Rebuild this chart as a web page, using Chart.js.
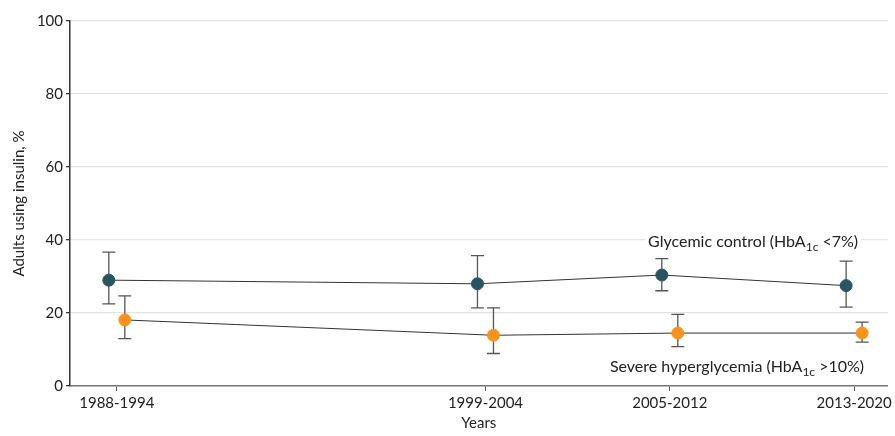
<!DOCTYPE html>
<html>
<head>
<meta charset="utf-8">
<script src="https://cdn.jsdelivr.net/npm/chart.js@4.4.1/dist/chart.umd.min.js"></script>
<style>
  html, body { margin: 0; padding: 0; background: #fff; }
  #wrap { width: 895px; height: 436px; }
</style>
</head>
<body>
<div id="wrap"><canvas id="chart"></canvas></div>
<script>
// survey periods and where they sit on the x axis
var periods = ['1988-1994', '1999-2004', '2005-2012', '2013-2020'];
var periodPos = [0, 2, 3, 4];

// glycemic control (HbA1c <7%)
var controlPct = [29.0, 28.0, 30.4, 27.5];
var controlLow = [22.5, 21.4, 26.1, 21.6];
var controlHigh = [36.7, 35.7, 34.9, 34.2];

// severe hyperglycemia (HbA1c >10%)
var severePct = [18.1, 13.9, 14.5, 14.5];
var severeLow = [13.0, 8.9, 10.8, 12.0];
var severeHigh = [24.7, 21.4, 19.6, 17.5];

var yTicks = [0, 20, 40, 60, 80, 100];

var FONT = 'Lato';
var FSIZE = 15;

function toPoints(vals, lo, hi) {
  return vals.map(function(v, i) {
    return { x: periodPos[i], y: v, lo: lo[i], hi: hi[i] };
  });
}

// nudge the two series apart by a few pixels so the bars don't overlap
var dodge = {
  id: 'dodge',
  afterDatasetsUpdate: function(chart) {
    chart.data.datasets.forEach(function(ds, i) {
      var meta = chart.getDatasetMeta(i);
      meta.data.forEach(function(pt) { pt.x += ds.dodge; });
    });
  }
};

var errorBars = {
  id: 'errorBars',
  beforeDatasetsDraw: function(chart) {
    var ctx = chart.ctx, y = chart.scales.y;
    ctx.save();
    ctx.strokeStyle = '#555';
    ctx.lineWidth = 1.3;
    chart.data.datasets.forEach(function(ds, i) {
      var meta = chart.getDatasetMeta(i);
      meta.data.forEach(function(pt, j) {
        var d = ds.data[j];
        var top = y.getPixelForValue(d.hi), bot = y.getPixelForValue(d.lo);
        ctx.beginPath();
        ctx.moveTo(pt.x, top); ctx.lineTo(pt.x, bot);
        ctx.moveTo(pt.x - 6.5, top); ctx.lineTo(pt.x + 6.5, top);
        ctx.moveTo(pt.x - 6.5, bot); ctx.lineTo(pt.x + 6.5, bot);
        ctx.stroke();
      });
    });
    ctx.restore();
  }
};

function drawSubLabel(ctx, parts, xRight, yMid, bg) {
  var big = '16px "' + FONT + '"', small = '12px "' + FONT + '"';
  var w = 0;
  parts.forEach(function(p) { ctx.font = p.sub ? small : big; w += ctx.measureText(p.t).width; });
  var x = xRight - w;
  if (bg) {
    ctx.fillStyle = '#fff';
    ctx.fillRect(x - 3, yMid - 9, w + 6, 20);
  }
  ctx.fillStyle = '#222';
  ctx.textBaseline = 'middle';
  ctx.textAlign = 'left';
  parts.forEach(function(p) {
    ctx.font = p.sub ? small : big;
    ctx.fillText(p.t, x, p.sub ? yMid + 5 : yMid);
    x += ctx.measureText(p.t).width;
  });
}

var seriesLabels = {
  id: 'seriesLabels',
  afterDraw: function(chart) {
    var ctx = chart.ctx, x = chart.scales.x, y = chart.scales.y;
    var xr = x.getPixelForValue(periodPos[3]);
    ctx.save();
    drawSubLabel(ctx, [{ t: 'Glycemic control (HbA' }, { t: '1c', sub: true }, { t: ' <7%)' }],
      xr + 4, y.getPixelForValue(39.5), true);
    drawSubLabel(ctx, [{ t: 'Severe hyperglycemia (HbA' }, { t: '1c', sub: true }, { t: ' >10%)' }],
      xr + 10, y.getPixelForValue(5.2), false);
    ctx.restore();
  }
};

new Chart(document.getElementById('chart'), {
  type: 'line',
  data: {
    datasets: [{
      label: 'Glycemic control (HbA1c <7%)',
      data: toPoints(controlPct, controlLow, controlHigh),
      borderColor: '#333',
      borderWidth: 1,
      pointBackgroundColor: '#285563',
      pointBorderColor: '#285563',
      pointRadius: 6,
      dodge: -8
    }, {
      label: 'Severe hyperglycemia (HbA1c >10%)',
      data: toPoints(severePct, severeLow, severeHigh),
      borderColor: '#333',
      borderWidth: 1,
      pointBackgroundColor: '#f7931e',
      pointBorderColor: '#f7931e',
      pointRadius: 6,
      dodge: 8
    }]
  },
  options: {
    responsive: true,
    maintainAspectRatio: false,
    animation: false,
    layout: { padding: { top: 21 } },
    plugins: { legend: { display: false }, tooltip: { enabled: false } },
    scales: {
      x: {
        type: 'linear',
        min: -0.254,
        max: 4.182,
        afterBuildTicks: function(scale) {
          scale.ticks = periodPos.map(function(v) { return { value: v }; });
        },
        afterFit: function(scale) { scale.height = 50; },
        ticks: {
          color: '#222',
          font: { family: FONT, size: FSIZE },
          padding: 3,
          callback: function(v) { return periods[periodPos.indexOf(v)]; }
        },
        grid: { drawOnChartArea: false, tickLength: 5, tickColor: '#555' },
        border: { color: '#777', width: 1.5 },
        title: { display: true, text: 'Years', color: '#222', font: { family: FONT, size: FSIZE }, padding: { top: 4 } }
      },
      y: {
        min: 0,
        max: 100,
        afterBuildTicks: function(scale) {
          scale.ticks = yTicks.map(function(v) { return { value: v }; });
        },
        afterFit: function(scale) { scale.width = 70; },
        ticks: { color: '#222', font: { family: FONT, size: FSIZE }, padding: 3 },
        grid: { color: '#e3e3e3', lineWidth: 1.3, tickLength: 4, tickColor: '#333' },
        border: { color: '#333', width: 1.5 },
        title: { display: true, text: 'Adults using insulin, %', color: '#222', font: { family: FONT, size: FSIZE }, padding: { top: 10, bottom: 4 } }
      }
    }
  },
  plugins: [dodge, errorBars, seriesLabels]
});
</script>
</body>
</html>
